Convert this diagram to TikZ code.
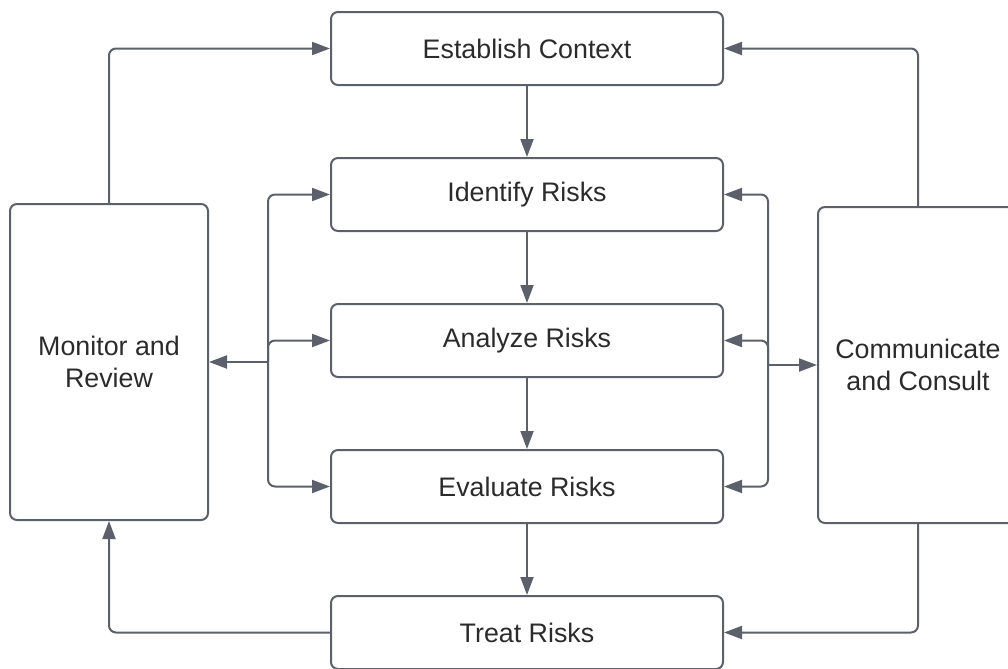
\documentclass[tikz,border=0pt]{standalone}
\usepackage{fontspec}
\setmainfont{Liberation Sans}
\usepackage{xcolor}
\usepackage{tikz}
\usetikzlibrary{arrows.meta,positioning}
\definecolor{linec}{HTML}{5B606A}
\definecolor{textc}{HTML}{2B2B2B}

\begin{document}
\begin{tikzpicture}[x=0.5pt,y=-0.5pt,node distance=35.5pt,
box/.style={draw=linec,line width=1pt,rounded corners=3.5pt,minimum width=196pt,minimum height=36.5pt,align=center,text=textc,font=\fontsize{13.4}{16}\selectfont},
side/.style={box,minimum width=99pt,minimum height=158pt},
arr/.style={-{Triangle[length=9pt,width=6.5pt]},line width=1pt,draw=linec,rounded corners=3.5pt}]
\useasboundingbox (0,0) rectangle (1008,669);
\node[box] (ec) at (527,48.5) {Establish Context};
\node[box,below=of ec] (ir) {Identify Risks};
\node[box,below=of ir] (ar) {Analyze Risks};
\node[box,below=of ar] (er) {Evaluate Risks};
\node[box,below=of er] (tr) {Treat Risks};
\node[side] (mr) at (109,362) {Monitor and\\Review};
\node[side,minimum width=100pt] (cc) at (918,365) {Communicate\\and Consult};
\coordinate (lj) at (268,362);
\coordinate (rj) at (768,365);
% main chain
\draw[arr] (ec) -- (ir); \draw[arr] (ir) -- (ar); \draw[arr] (ar) -- (er); \draw[arr] (er) -- (tr);
% outer loops
\draw[arr] (mr.north) |- (ec.west);
\draw[arr] (cc.north) |- (ec.east);
\draw[arr] (tr.west) -| (mr.south);
\draw[arr] (cc.south) |- (tr.east);
% buses
\draw[arr] (lj) -- (mr.east);
\draw[arr] (lj) |- (ir.west); \draw[arr] (lj) |- (ar.west); \draw[arr] (lj) |- (er.west);
\draw[arr] (rj) -- (cc.west);
\draw[arr] (rj) |- (ir.east); \draw[arr] (rj) |- (ar.east); \draw[arr] (rj) |- (er.east);
\end{tikzpicture}
\end{document}
